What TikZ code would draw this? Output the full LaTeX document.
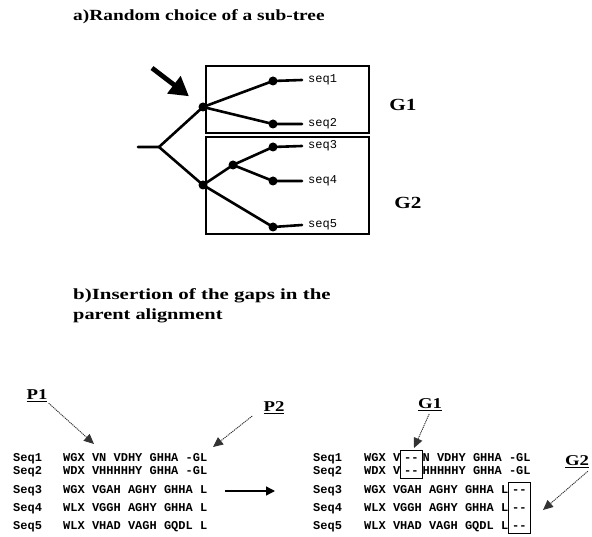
\documentclass[tikz,border=0pt]{standalone}
\usepackage{fontspec}
\setmainfont{Liberation Serif}
\newfontfamily\headfont[FakeStretch=1.25]{Liberation Serif}
\newfontfamily\alnfont{Liberation Mono}
\usetikzlibrary{arrows.meta,fit}
% two gap symbols that must not merge into a dash ligature
\newcommand\gapdash{-\kern0pt-}

\begin{document}
\begin{tikzpicture}[x=1pt,y=-1pt,
  titletext/.style={font=\headfont\bfseries\fontsize{15.5}{18}\selectfont, anchor=base west, inner sep=0pt},
  treeline/.style={line width=2.6pt, line cap=round, line join=round},
  leafdot/.style={circle, fill=black, inner sep=0pt, minimum size=9pt},
  grpbox/.style={draw, line width=1.1pt, inner sep=0pt},
  leaflab/.style={font=\alnfont\fontsize{12}{12}\selectfont, anchor=west, inner sep=0pt, inner xsep=6pt},
  grplab/.style={font=\headfont\bfseries\fontsize{17}{17}\selectfont, inner sep=0pt},
  bigarrow/.style={line width=4.8pt, -{Triangle[length=19pt,width=21pt]}},
  seqname/.style={font=\alnfont\bfseries\fontsize{12}{12}\selectfont, anchor=base west, inner sep=0pt},
  seqtxt/.style={seqname},
  seqgap/.style={seqname, inner xsep=3.6pt, text height=7pt, text depth=0pt},
  gapframe/.style={draw, line width=1pt, inner sep=0pt, inner ysep=4pt},
  tagtext/.style={font=\headfont\bfseries\fontsize{15}{15}\selectfont, inner sep=1pt},
  pointer/.style={line width=0.9pt, black!80, dash pattern=on 1.2pt off 0.8pt, -{Triangle[length=10pt,width=9pt]}},
  movearrow/.style={line width=1.3pt, -{Triangle[length=9pt,width=9pt]}},
]
\useasboundingbox (0,0) rectangle (592,537);

% ---------------- part a: the guide tree ----------------
\node[titletext] (ta) at (73,20.5) {a)Random choice of a sub-tree};

\node[grpbox, minimum width=163pt, minimum height=67pt] (bxA) at (287.5,99.5) {};
\node[grpbox, minimum width=163pt, minimum height=97pt] (bxB) at (287.5,185.5) {};

\coordinate (root) at (138,147);
\coordinate (fork) at (159,147);
\node[leafdot] (nA) at (203,107) {};
\node[leafdot] (nB) at (203,185) {};
\node[leafdot] (nC) at (233,165) {};
\node[leafdot] (l1) at (273,81) {};
\node[leafdot] (l2) at (273,124) {};
\node[leafdot] (l3) at (273,147) {};
\node[leafdot] (l4) at (273,181) {};
\node[leafdot] (l5) at (273,227) {};

\node[leaflab] (s1) at (302,80) {seq1};
\node[leaflab] (s2) at (302,124) {seq2};
\node[leaflab] (s3) at (302,146) {seq3};
\node[leaflab] (s4) at (302,181) {seq4};
\node[leaflab] (s5) at (302,225) {seq5};

\draw[treeline] (root) -- (fork) -- (nA.center) -- (l1.center) -- (s1.west);
\draw[treeline] (nA.center) -- (l2.center) -- (s2.west);
\draw[treeline] (fork) -- (nB.center) -- (nC.center) -- (l3.center) -- (s3.west);
\draw[treeline] (nC.center) -- (l4.center) -- (s4.west);
\draw[treeline] (nB.center) -- (l5.center) -- (s5.west);

\node[grplab] (gA) at (403,105) {G1};
\node[grplab] (gB) at (408,203) {G2};

\coordinate (bigtail) at (152,68);
\draw[bigarrow, shorten >=13pt] (bigtail) -- (nA);

% ---------------- part b: gap insertion ----------------
\node[titletext] (tb1) at (73,300) {\scalebox{1.08}[1]{b)Insertion of the gaps in the}};
\node[titletext] (tb2) at (73,320) {\scalebox{1.05}[1]{parent alignment}};

% parent alignment
\node[seqname] (ln1) at (13,461.5) {Seq1};
\node[seqname] (ln2) at (13,474.5) {Seq2};
\node[seqname] (ln3) at (13,493.5) {Seq3};
\node[seqname] (ln4) at (13,511.5) {Seq4};
\node[seqname] (ln5) at (13,529.5) {Seq5};
\node[seqtxt] (la1) at (63,461.5) {WGX VN VDHY GHHA -GL};
\node[seqtxt] (la2) at (63,474.5) {WDX VHHHHHY GHHA -GL};
\node[seqtxt] (la3) at (63,493.5) {WGX VGAH AGHY GHHA L};
\node[seqtxt] (la4) at (63,511.5) {WLX VGGH AGHY GHHA L};
\node[seqtxt] (la5) at (63,529.5) {WLX VHAD VAGH GQDL L};

\node[tagtext] (p1) at (37,396) {\underline{P1}};
\node[tagtext] (p2) at (274,408) {\underline{P2}};
\coordinate (p1tip) at (94,444);
\coordinate (p2tip) at (213,447);
\draw[pointer] (p1.south east) -- (p1tip);
\draw[pointer, shorten <=13pt] (p2.west) -- (p2tip);

\coordinate (mvA) at (225,491);
\coordinate (mvB) at (275,491);
\draw[movearrow] (mvA) -- (mvB);

% alignment with the gaps inserted
\node[seqname] (rn1) at (313,461.5) {Seq1};
\node[seqname] (rn2) at (313,474.5) {Seq2};
\node[seqname] (rn3) at (313,493.5) {Seq3};
\node[seqname] (rn4) at (313,511.5) {Seq4};
\node[seqname] (rn5) at (313,529.5) {Seq5};

\node[seqtxt] (r1a) at (364,461.5) {WGX V};
\node[seqgap] (r1g) at (r1a.base east) {\gapdash};
\node[seqtxt] (r1b) at (r1g.base east) {N VDHY GHHA -GL};
\node[seqtxt] (r2a) at (364,474.5) {WDX V};
\node[seqgap] (r2g) at (r2a.base east) {\gapdash};
\node[seqtxt] (r2b) at (r2g.base east) {HHHHHY GHHA -GL};
\node[seqtxt] (r3a) at (364,493.5) {WGX VGAH AGHY GHHA L};
\node[seqgap] (r3g) at (r3a.base east) {\gapdash};
\node[seqtxt] (r4a) at (364,511.5) {WLX VGGH AGHY GHHA L};
\node[seqgap] (r4g) at (r4a.base east) {\gapdash};
\node[seqtxt] (r5a) at (364,529.5) {WLX VHAD VAGH GQDL L};
\node[seqgap] (r5g) at (r5a.base east) {\gapdash};

\node[gapframe, fit=(r1g)(r2g)] (gapA) {};
\node[gapframe, fit=(r3g)(r5g)] (gapB) {};

\node[tagtext] (g1b) at (430,405) {\underline{G1}};
\node[tagtext] (g2b) at (577,462) {\underline{G2}};
\coordinate (g1tip) at (414,448);
\coordinate (g2tip) at (543,510);
\draw[pointer, shorten <=2pt] (g1b.south) -- (g1tip);
\draw[pointer, shorten <=3pt] (g2b.south east) -- (g2tip);
\end{tikzpicture}
\end{document}
